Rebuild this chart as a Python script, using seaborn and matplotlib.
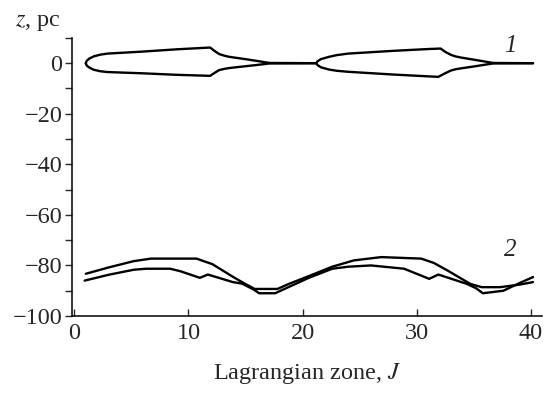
import numpy as np
import pandas as pd
import matplotlib
matplotlib.use("Agg")
import matplotlib.pyplot as plt
import seaborn as sns
from matplotlib.ticker import MultipleLocator

# Curve 1: upper and lower boundaries (J, z)
j1_up = [1.0, 1.08, 1.3, 1.7, 2.3, 2.9, 6, 9, 11.9, 12.3, 12.7, 13.2, 13.6, 15, 16, 17.1, 21.2, 21.3, 21.6, 22.3, 23, 24, 28, 31, 32.1, 32.5, 33, 33.4, 33.8, 35, 36.7, 40.2]
z1_up = [0, 0.9, 1.8, 2.7, 3.4, 3.8, 4.6, 5.5, 6.2, 4.8, 3.6, 2.9, 2.5, 1.6, 0.9, 0.1, 0, 0.7, 1.6, 2.5, 3.2, 3.8, 4.9, 5.6, 5.8, 4.5, 3.3, 2.7, 2.3, 1.4, 0.1, 0]
j1_lo = [1.0, 1.08, 1.3, 1.7, 2.3, 2.9, 6, 9, 11.9, 12.3, 12.7, 13.2, 13.6, 15, 16, 17.1, 21.2, 21.3, 21.6, 22.3, 23, 24, 28, 31, 31.9, 32.4, 33, 33.4, 33.8, 35, 36.7, 40.2]
z1_lo = [0, -0.9, -1.7, -2.6, -3.2, -3.5, -4.0, -4.6, -5.0, -3.8, -2.7, -2.2, -1.9, -1.2, -0.7, -0.1, 0, -0.7, -1.6, -2.5, -3.0, -3.4, -4.5, -5.2, -5.4, -4.2, -2.9, -2.4, -2.1, -1.3, -0.1, 0]

# Curve 2: two lines
j2_a = [1.0, 3, 5.2, 6.7, 10.7, 12.1, 13.9, 14.7, 15.8, 17.8, 18.8, 20.5, 22.6, 24.5, 26.9, 30.4, 31.5, 32.7, 34.7, 35.7, 37.3, 39, 40.2]
z2_a = [-83.3, -80.8, -78.3, -77.3, -77.3, -79.5, -84.5, -86.6, -89.3, -89.3, -87.3, -84.3, -80.5, -78, -76.7, -77.3, -79, -82, -87.3, -88.6, -88.6, -87.6, -86.6]
j2_b = [0.9, 3, 5.2, 6.3, 8.4, 9.3, 11.0, 11.7, 13.9, 14.7, 15.7, 16.2, 17.6, 18.8, 20.5, 22.6, 24, 26, 28.9, 31.1, 31.9, 34.4, 35.2, 35.8, 37.6, 39, 40.2]
z2_b = [-86, -83.7, -81.7, -81.3, -81.3, -82.3, -84.9, -83.6, -86.6, -87.2, -89.5, -91, -91, -88.5, -85, -81.3, -80.5, -80, -81.3, -85.3, -83.6, -87.3, -89, -91, -90, -87, -84.6]

x_ticks = [0, 10, 20, 30, 40]
y_ticks = [0, -20, -40, -60, -80, -100]
y_ticklabels = ["0", "\u221220", "\u221240", "\u221260", "\u221280", "\u2212100"]

sns.set_style("ticks")
plt.rcParams['font.family'] = ['Liberation Serif', 'DejaVu Serif']
plt.rcParams['mathtext.fontset'] = 'stix'

FS = 17.5
fig = plt.figure(figsize=(5.46, 3.95), dpi=100)
ax = fig.add_axes([0.132, 0.2, 0.861, 0.704])

series = [(j1_up, z1_up, "1u"), (j1_lo, z1_lo, "1l"), (j2_a, z2_a, "2a"), (j2_b, z2_b, "2b")]
for jj, zz, name in series:
    df = pd.DataFrame({"J": jj, "z": zz, "s": name})
    sns.lineplot(data=df, x="J", y="z", sort=False, color="black", lw=1.7, ax=ax, legend=False)

ax.set_xlim(-0.2, 41.0)
ax.set_ylim(-100, 10)
ax.set_xticks(x_ticks)
ax.set_yticks(y_ticks)
ax.set_yticklabels(y_ticklabels)
ax.yaxis.set_minor_locator(MultipleLocator(10))
ax.tick_params(axis='x', direction='in', length=5, width=1, labelsize=FS, pad=5)
ax.tick_params(axis='y', which='major', direction='out', length=5, width=1, labelsize=FS, pad=2)
ax.tick_params(axis='y', which='minor', direction='out', length=5, width=1)
for s in ["top", "right"]:
    ax.spines[s].set_visible(False)
for s in ["left", "bottom"]:
    ax.spines[s].set_linewidth(1.1)
    ax.spines[s].set_color("black")

ax.set_xlabel("Lagrangian zone, $\\mathit{J}$", fontsize=FS, labelpad=12)
ax.set_ylabel("")
fig.text(0.028, 0.935, "$\\mathit{z}$, pc", fontsize=FS, ha='left', va='baseline')

ax.text(38.2, 7, "1", fontsize=18, style='italic', ha='center', va='center')
ax.text(38.2, -74, "2", fontsize=18, style='italic', ha='center', va='center')

fig.savefig("out.png", dpi=100)
